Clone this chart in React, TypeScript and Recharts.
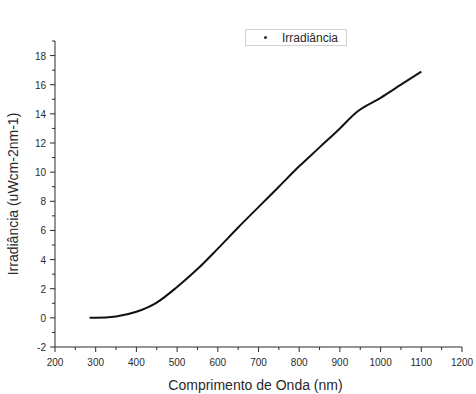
import { Line, LineChart, XAxis, YAxis } from "recharts"

const wavelength = [285, 300, 350, 400, 450, 500, 550, 600, 650, 700, 750, 800, 850, 900, 940, 1000, 1050, 1100]
const irradiance = [0, 0, 0.1, 0.42, 1.05, 2.12, 3.35, 4.75, 6.2, 7.6, 9.0, 10.4, 11.7, 13.0, 14.1, 15.1, 16.0, 16.9]

const xTicks = [200, 250, 300, 350, 400, 450, 500, 550, 600, 650, 700, 750, 800, 850, 900, 950, 1000, 1050, 1100, 1150, 1200]
const yTicks = [-2, -1, 0, 1, 2, 3, 4, 5, 6, 7, 8, 9, 10, 11, 12, 13, 14, 15, 16, 17, 18, 19]

const data = wavelength.map((w, i) => ({ w, v: irradiance[i] }))

const font = "'Liberation Sans', Arial, sans-serif"
const ink = "#2a2a2a"

const XTick = ({ x, y, payload }: any) => {
  const major = payload.value % 100 === 0
  return (
    <g>
      <line x1={x} x2={x} y1={y} y2={y + (major ? 5 : 3)} stroke={ink} strokeWidth={1} />
      {major && (
        <text x={x} y={y + 19} textAnchor="middle" fontSize={10} fill={ink} fontFamily={font}>
          {payload.value}
        </text>
      )}
    </g>
  )
}

const YTick = ({ x, y, payload }: any) => {
  const major = payload.value % 2 === 0
  return (
    <g>
      <line x1={x} x2={x - (major ? 5 : 3)} y1={y} y2={y} stroke={ink} strokeWidth={1} />
      {major && (
        <text x={x - 9} y={y + 4} textAnchor="end" fontSize={10} fill={ink} fontFamily={font}>
          {payload.value}
        </text>
      )}
    </g>
  )
}

const YTitle = ({ viewBox }: any) => {
  const cx = 18
  const cy = viewBox.y + viewBox.height / 2
  return (
    <text
      x={cx}
      y={cy}
      transform={`rotate(-90 ${cx} ${cy})`}
      textAnchor="middle"
      fontSize={14}
      fill={ink}
      fontFamily={font}
    >
      Irradiância (uWcm-2nm-1)
    </text>
  )
}

const XTitle = ({ viewBox }: any) => (
  <text
    x={viewBox.x + viewBox.width / 2 - 3}
    y={390}
    textAnchor="middle"
    fontSize={14}
    fill={ink}
    fontFamily={font}
  >
    Comprimento de Onda (nm)
  </text>
)

const LegendBox = () => (
  <div
    style={{
      position: "absolute",
      left: 245,
      top: 29,
      width: 102,
      height: 17,
      border: "1px solid #d0d0d0",
      boxSizing: "border-box",
      fontFamily: font,
      fontSize: 12,
      color: ink,
      display: "flex",
      alignItems: "center",
    }}
  >
    <span style={{ width: 3, height: 3, background: ink, borderRadius: 2, marginLeft: 18 }} />
    <span style={{ marginLeft: 15 }}>Irradiância</span>
  </div>
)

export default function App() {
  return (
    <div style={{ position: "absolute", left: 0, top: 0, width: 476, height: 394, background: "#fff" }}>
      <LineChart width={476} height={394} data={data} margin={{ top: 41, right: 14, left: 0, bottom: 0 }}>
        <XAxis
          dataKey="w"
          type="number"
          domain={[200, 1200]}
          ticks={xTicks}
          interval={0}
          tickSize={0}
          tickMargin={0}
          tickLine={false}
          axisLine={{ stroke: ink }}
          tick={<XTick />}
          height={47}
          label={<XTitle />}
        />
        <YAxis
          type="number"
          domain={[-2, 19]}
          ticks={yTicks}
          interval={0}
          tickSize={0}
          tickMargin={0}
          tickLine={false}
          axisLine={{ stroke: ink }}
          tick={<YTick />}
          width={55}
          label={<YTitle />}
        />
        <Line
          type="monotone"
          dataKey="v"
          stroke="#111"
          strokeWidth={2}
          dot={false}
          isAnimationActive={false}
        />
      </LineChart>
      <LegendBox />
    </div>
  )
}
